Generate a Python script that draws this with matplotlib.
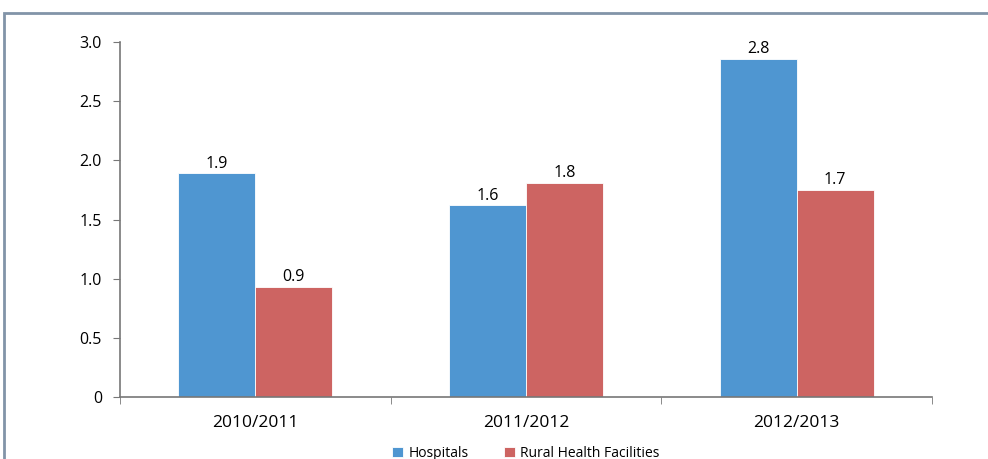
import matplotlib.pyplot as plt
import matplotlib.patches as mpatches
import numpy as np

plt.rcParams['font.family'] = ['Open Sans', 'DejaVu Sans']

# %% data
years = ['2010/2011', '2011/2012', '2012/2013']
hospitals = [1.89, 1.62, 2.86]
rural = [0.93, 1.81, 1.75]
hosp_labels = ['1.9', '1.6', '2.8']
rural_labels = ['0.9', '1.8', '1.7']
yticks = [0, 0.5, 1.0, 1.5, 2.0, 2.5, 3.0]
ytick_labels = ['0', '0.5', '1.0', '1.5', '2.0', '2.5', '3.0']

blue = '#4f96d1'
red = '#cd6462'

# %% plot
fig = plt.figure(figsize=(9.88, 4.59), dpi=100)
ax = fig.add_axes([0.1215, 0.135, 0.8218, 0.7735])

# outer frame (only top/left visible)
fig.patches.append(mpatches.Rectangle((4 / 988, -0.2), 1.2, 1.2 - 13 / 459,
                                      transform=fig.transFigure, fill=False,
                                      edgecolor='#8294a8', linewidth=2))

x = np.arange(len(years))
w = 0.285
b1 = ax.bar(x - w / 2, hospitals, w, color=blue, edgecolor='white', linewidth=0.6,
            label='Hospitals')
b2 = ax.bar(x + w / 2, rural, w, color=red, edgecolor='white', linewidth=0.6,
            label='Rural Health Facilities')

for bars, labs in [(b1, hosp_labels), (b2, rural_labels)]:
    for bar, lab in zip(bars, labs):
        ax.text(bar.get_x() + bar.get_width() / 2, bar.get_height() + 0.015, lab,
                ha='center', va='bottom', fontsize=11.5)

ax.set_xlim(-0.5, len(years) - 0.5)
ax.set_ylim(0, 3.0)
ax.set_yticks(yticks)
ax.set_yticklabels(ytick_labels, fontsize=11.5)
ax.set_xticks(x)
ax.set_xticklabels(years, fontsize=12.5)
ax.tick_params(axis='x', length=0, pad=13)
ax.set_xticks(np.arange(len(years) + 1) - 0.5, minor=True)
ax.tick_params(axis='x', which='minor', length=5, color='#777777')
ax.tick_params(axis='y', length=5, color='#777777', pad=8)

for s in ['top', 'right']:
    ax.spines[s].set_visible(False)
for s in ['left', 'bottom']:
    ax.spines[s].set_color('#777777')
    ax.spines[s].set_linewidth(1.2)

ax.legend(loc='upper center', bbox_to_anchor=(0.5, -0.118), ncol=2, frameon=False,
          fontsize=10, handlelength=0.8, handleheight=0.8, columnspacing=2.5,
          handletextpad=0.4, borderpad=0)

plt.savefig('out.png', dpi=100)
